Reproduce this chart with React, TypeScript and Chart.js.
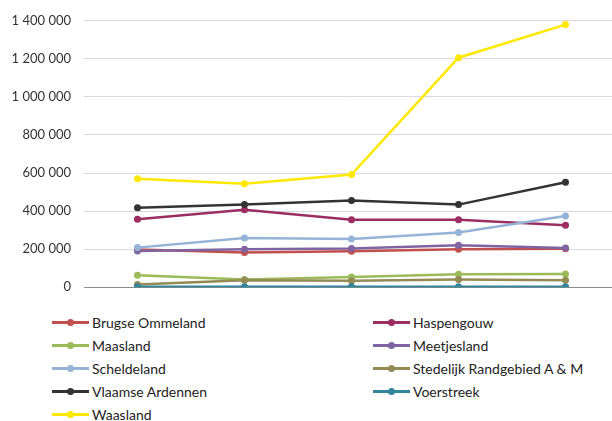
import React, { useEffect, useRef } from "react";
import { Chart, registerables } from "chart.js";

Chart.register(...registerables);

const categories = ["1", "2", "3", "4", "5"];
const seriesNames = [
  "Brugse Ommeland",
  "Haspengouw",
  "Maasland",
  "Meetjesland",
  "Scheldeland",
  "Stedelijk Randgebied A & M",
  "Vlaamse Ardennen",
  "Voerstreek",
  "Waasland",
];
const brugseOmmeland = [198000, 182000, 189000, 199000, 202000];
const haspengouw = [357000, 407000, 355000, 355000, 325000];
const maasland = [63000, 40000, 54000, 68000, 70000];
const meetjesland = [190000, 199000, 203000, 220000, 206000];
const scheldeland = [208000, 259000, 253000, 288000, 374000];
const stedelijk = [14000, 37000, 34000, 40000, 37000];
const vlaamseArdennen = [418000, 434000, 456000, 434000, 552000];
const voerstreek = [2000, 2000, 2000, 2000, 2000];
const waasland = [570000, 544000, 592000, 1206000, 1380000];
const seriesValues = [
  brugseOmmeland,
  haspengouw,
  maasland,
  meetjesland,
  scheldeland,
  stedelijk,
  vlaamseArdennen,
  voerstreek,
  waasland,
];
const seriesColors = [
  "#C0504D",
  "#9B2D62",
  "#9BBB59",
  "#8064A2",
  "#95B3D7",
  "#948A54",
  "#333333",
  "#31859C",
  "#FFE800",
];
const yTicks = [0, 200000, 400000, 600000, 800000, 1000000, 1200000, 1400000];

const fmt = (v: number) =>
  String(Math.round(v)).replace(/\B(?=(\d{3})+(?!\d))/g, " ");

const FONT = "Lato, 'Open Sans', sans-serif";

export default function App() {
  const ref = useRef<HTMLCanvasElement>(null);
  useEffect(() => {
    if (!ref.current) return;
    const n = seriesNames.length;
    const chart = new Chart(ref.current, {
      type: "line",
      data: {
        labels: categories,
        datasets: seriesNames.map((name, i) => ({
          label: name,
          data: seriesValues[i],
          borderColor: seriesColors[i],
          backgroundColor: seriesColors[i],
          pointBackgroundColor: seriesColors[i],
          pointBorderColor: seriesColors[i],
          borderWidth: 2.5,
          pointRadius: 3.5,
          pointBorderWidth: 0,
          tension: 0,
          order: n - i,
        })),
      },
      options: {
        animation: false,
        responsive: false,
        maintainAspectRatio: false,
        layout: { padding: { left: 0, right: 21, top: 20, bottom: 5 } },
        plugins: { legend: { display: false }, tooltip: { enabled: false } },
        scales: {
          x: {
            type: "category",
            offset: true,
            ticks: { display: false },
            grid: { display: false, drawTicks: false },
            border: { display: true, color: "#8C8C8C", width: 1 },
            afterFit: (s: any) => {
              s.height = 0;
            },
          },
          y: {
            min: 0,
            max: 1400000,
            afterBuildTicks: (s: any) => {
              s.ticks = yTicks.map((v) => ({ value: v }));
            },
            ticks: {
              padding: 13,
              color: "#333333",
              font: { family: FONT, size: 13 },
              callback: (v: any) => fmt(Number(v)),
            },
            grid: {
              color: (ctx: any) =>
                ctx.tick && ctx.tick.value === 0 ? "#8C8C8C" : "#D9D9D9",
              lineWidth: 1,
              drawTicks: false,
            },
            border: { display: false },
            afterFit: (s: any) => {
              s.width = 84;
            },
          },
        },
      },
    });
    return () => chart.destroy();
  }, []);

  const rowY = [322, 345, 368, 391, 414];
  return (
    <div
      style={{
        position: "absolute",
        left: 0,
        top: 0,
        width: 612,
        height: 421,
        overflow: "hidden",
        background: "#fff",
      }}
    >
      <canvas ref={ref} width={640} height={308} style={{ display: "block" }} />
      {seriesNames.map((name, i) => {
        const col = i % 2;
        const row = Math.floor(i / 2);
        const x = col === 0 ? 52 : 373;
        const y = rowY[row];
        return (
          <div
            key={name}
            style={{
              position: "absolute",
              left: x,
              top: y - 10,
              height: 20,
              display: "flex",
              alignItems: "center",
              whiteSpace: "nowrap",
              fontFamily: FONT,
              fontSize: 14,
              color: "#222222",
            }}
          >
            <div style={{ position: "relative", width: 37, height: 20, marginRight: 3 }}>
              <div
                style={{
                  position: "absolute",
                  left: 0,
                  top: 8.5,
                  width: 37,
                  height: 3,
                  background: seriesColors[i],
                }}
              />
              <div
                style={{
                  position: "absolute",
                  left: 14.5,
                  top: 6.5,
                  width: 7,
                  height: 7,
                  borderRadius: "50%",
                  background: seriesColors[i],
                }}
              />
            </div>
            <span>{name}</span>
          </div>
        );
      })}
    </div>
  );
}
